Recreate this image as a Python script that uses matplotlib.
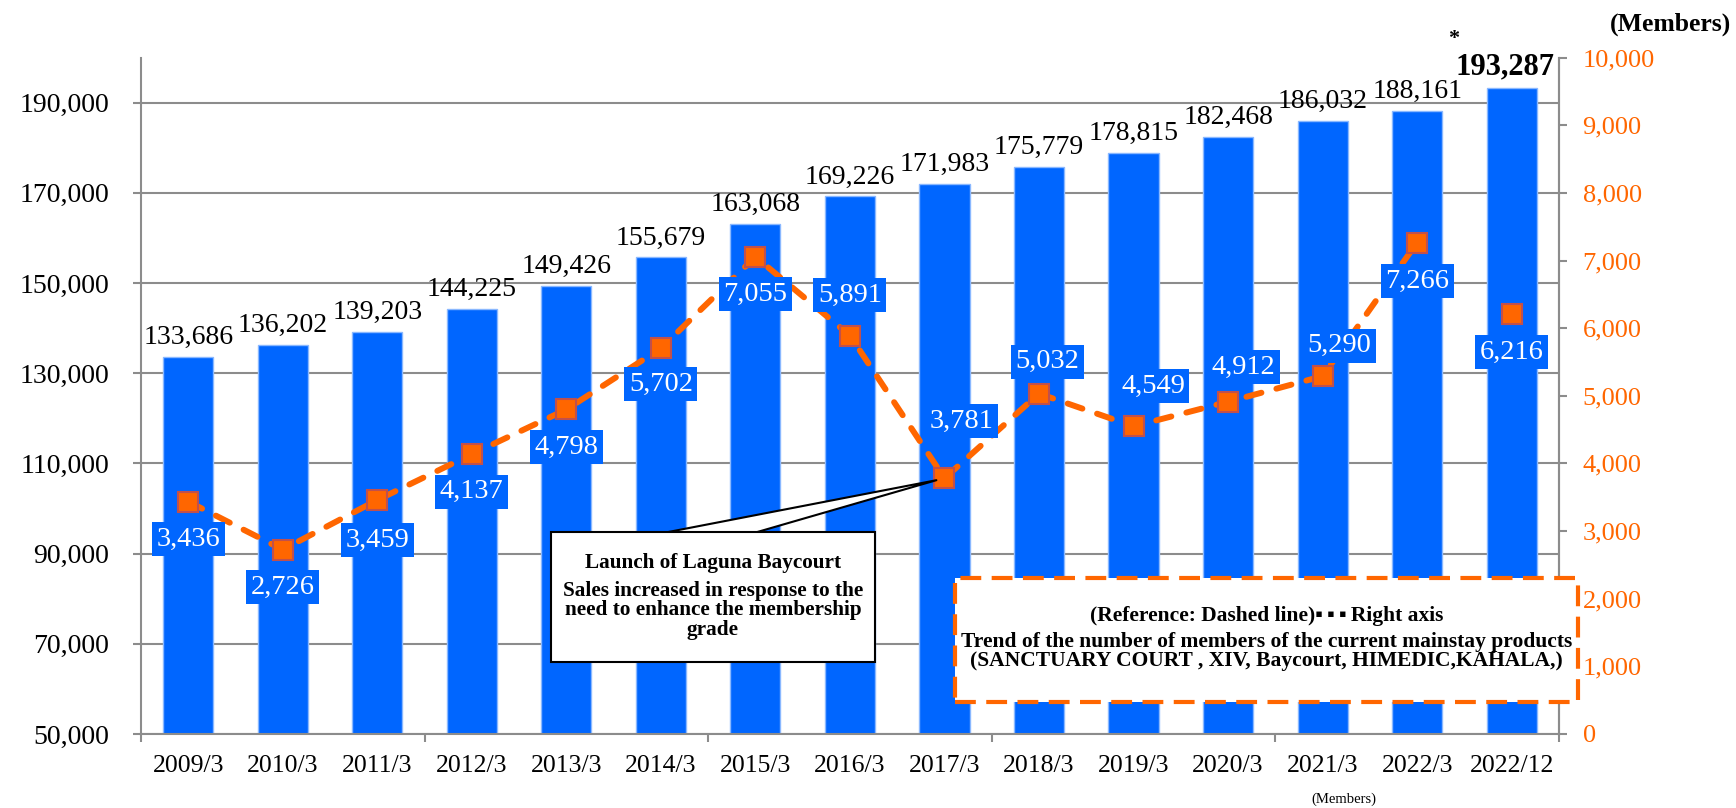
import numpy as np
import matplotlib
matplotlib.use("Agg")
import matplotlib.pyplot as plt
from matplotlib.patches import Rectangle

plt.rcParams['font.family'] = ['Liberation Serif', 'DejaVu Serif']

# data
periods = ["2009/3", "2010/3", "2011/3", "2012/3", "2013/3", "2014/3", "2015/3",
           "2016/3", "2017/3", "2018/3", "2019/3", "2020/3", "2021/3", "2022/3", "2022/12"]
total_members = [133686, 136202, 139203, 144225, 149426, 155679, 163068,
                 169226, 171983, 175779, 178815, 182468, 186032, 188161, 193287]
mainstay_members = [3436, 2726, 3459, 4137, 4798, 5702, 7055,
                    5891, 3781, 5032, 4549, 4912, 5290, 7266, 6216]
# label offsets (points) for the line labels
lab_off = [(0, -27), (0, -27), (0, -29), (0, -27), (0, -27), (0, -26), (0, -27),
           (0, 29), (12, 41), (6, 23), (14, 29), (11, 25), (12, 22), (0, -28), (0, -28)]

BLUE = '#0066FF'
ORANGE = '#FF6600'
GRAY = '#8C8C8C'

fig = plt.figure(figsize=(17.36, 8.08), dpi=100)
ax = fig.add_axes([0.0812, 0.0916, 0.8168, 0.8371])
ax2 = ax.twinx()

x = np.arange(len(periods))
ax.bar(x, total_members, width=0.53, color=BLUE, edgecolor='#8AB8FF', linewidth=1, zorder=2)
ax.set_xlim(-0.5, len(periods) - 0.5)
ax.set_ylim(50000, 200000)
ax.set_yticks(np.arange(50000, 200000, 20000))
ax.set_yticklabels([f"{v:,}" for v in range(50000, 200000, 20000)], fontsize=20)
ax.yaxis.grid(True, color=GRAY, linewidth=1.5)
ax.set_axisbelow(True)

ax.set_xticks(x)
ax.set_xticklabels(periods, fontsize=18.5)
ax.set_xticks(np.arange(-0.5, len(periods), 3), minor=True)
ax.tick_params(axis='x', which='major', length=0, pad=15)
ax.tick_params(axis='x', which='minor', length=6, width=1.5, color=GRAY)
ax.tick_params(axis='y', length=6, width=1.5, color=GRAY, pad=17)

for s in ['top']:
    ax.spines[s].set_visible(False)
    ax2.spines[s].set_visible(False)
for s in ['left', 'bottom', 'right']:
    ax.spines[s].set_color(GRAY)
    ax.spines[s].set_linewidth(1.5)
ax2.spines['right'].set_color(GRAY)
ax2.spines['right'].set_linewidth(1.5)
ax2.spines['left'].set_visible(False)
ax2.spines['bottom'].set_visible(False)

# bar value labels
for i, v in enumerate(total_members[:-1]):
    ax.annotate(f"{v:,}", xy=(i, v), xytext=(0, 5), textcoords='offset points',
                ha='center', va='bottom', fontsize=20, zorder=5)
ax.annotate(f"{total_members[-1]:,}", xy=(x[-1], total_members[-1]), xytext=(-5, 5),
            textcoords='offset points', ha='center', va='bottom', fontsize=22,
            fontweight='bold', zorder=5)
ax.annotate("*", xy=(x[-1], total_members[-1]), xytext=(-42, 35), textcoords='offset points',
            ha='center', va='center', fontsize=16, fontweight='bold')

# dashed line on right axis
ax2.set_ylim(0, 10000)
ax2.set_yticks(np.arange(0, 10001, 1000))
ax2.set_yticklabels([f"{v:,}" for v in range(0, 10001, 1000)], fontsize=19, color=ORANGE)
ax2.tick_params(axis='y', length=6, width=1.5, color=GRAY, pad=11)
ax2.plot(x[:-1], mainstay_members[:-1], color=ORANGE, linewidth=4.3,
         linestyle=(0, (2.6, 2.6)), dash_capstyle='round', zorder=3)
ax2.plot(x, mainstay_members, linestyle='none', marker='s', markersize=14,
         markerfacecolor=ORANGE, markeredgecolor='#C0504D', markeredgewidth=1.5, zorder=4)

for i, v in enumerate(mainstay_members):
    ax2.annotate(f"{v:,}", xy=(i, v), xytext=lab_off[i], textcoords='offset points',
                 ha='center', va='center', fontsize=20.5, color='white', zorder=6,
                 bbox=dict(boxstyle='square,pad=0.16', fc=BLUE, ec='none'))

# callout
ax2.annotate("", xy=(8, mainstay_members[8]), xytext=(609 / 1736, 1 - 559 / 808),
             textcoords='figure fraction',
             arrowprops=dict(arrowstyle='wedge,tail_width=1.1,shrink_factor=0.5',
                             mutation_scale=20, fc='white', ec='black', lw=1.5,
                             shrinkA=0, shrinkB=6), zorder=7)
fig.patches.append(Rectangle((0.3174, 0.1807), 0.1866, 0.1609, transform=fig.transFigure,
                             fc='white', ec='black', lw=1.5, zorder=8))
fig.text(0.4107, 0.3032, "Launch of Laguna Baycourt", ha='center', va='center',
         fontsize=15.3, fontweight='bold', zorder=9)
fig.text(0.4107, 0.2445, "Sales increased in response to the\nneed to enhance the membership\ngrade",
         ha='center', va='center', fontsize=15.3, fontweight='bold', linespacing=0.97, zorder=9)

# reference box
fig.patches.append(Rectangle((0.550, 0.131), 0.359, 0.154, transform=fig.transFigure,
                             fc='white', ec=ORANGE, lw=3, linestyle=(0, (5, 2.5)), zorder=8))
fig.text(0.7295, 0.238, "(Reference: Dashed line)\u25aa\u2009\u25aa\u2009\u25aa\u2009Right axis",
         ha='center', va='center', fontsize=15.5, fontweight='bold', zorder=9)
fig.text(0.7295, 0.194, "Trend of the number of members of the current mainstay products\n"
         "(SANCTUARY COURT , XIV, Baycourt, HIMEDIC,KAHALA,)", ha='center', va='center',
         fontsize=15.5, fontweight='bold', linespacing=0.95, zorder=9)

fig.text(0.997, 0.970, "(Members)", ha='right', va='center', fontsize=18.5, fontweight='bold')
fig.text(0.774, 0.003, "(Members)", ha='center', va='bottom', fontsize=10.5)

fig.savefig("out.png", dpi=100)
